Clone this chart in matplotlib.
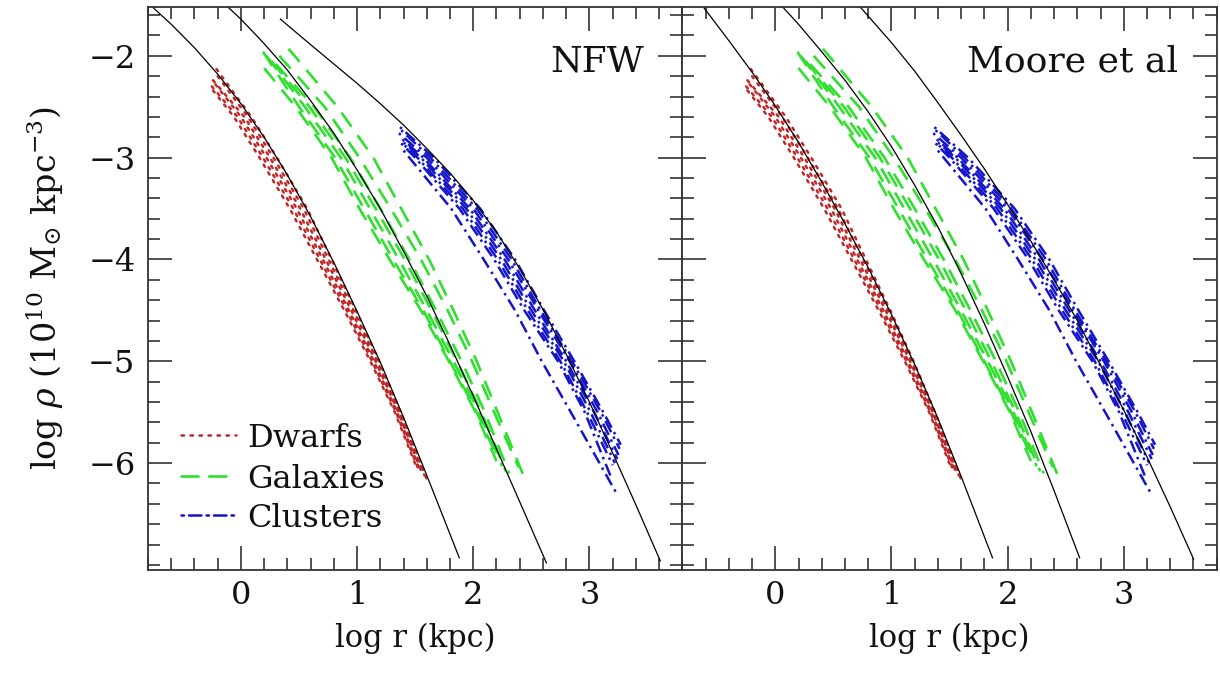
import matplotlib
matplotlib.use("Agg")
import matplotlib.pyplot as plt
from matplotlib.ticker import MultipleLocator, FixedLocator

plt.rcParams['font.family'] = ['DejaVu Serif']
plt.rcParams['mathtext.fontset'] = 'dejavuserif'

# ---------------- model curves (black) ----------------
nfw_dwarf_x = [-0.8, -0.6, -0.4, -0.2, 0.0, 0.2, 0.4, 0.6, 0.8, 1.0, 1.2, 1.4, 1.6, 1.88]
nfw_dwarf_y = [-1.48, -1.69, -1.92, -2.18, -2.47, -2.80, -3.17, -3.58, -4.03, -4.51, -5.01, -5.55, -6.12, -6.93]
nfw_gal_x = [-0.15, 0.0, 0.2, 0.4, 0.6, 0.8, 1.0, 1.2, 1.4, 1.6, 1.8, 2.0, 2.2, 2.4, 2.63]
nfw_gal_y = [-1.48, -1.64, -1.88, -2.14, -2.44, -2.76, -3.12, -3.50, -3.92, -4.36, -4.84, -5.34, -5.86, -6.38, -6.98]
nfw_clu_x = [0.34, 0.6, 0.8, 1.0, 1.2, 1.4, 1.6, 1.8, 2.0, 2.2, 2.4, 2.6, 2.8, 3.0, 3.2, 3.4, 3.61]
nfw_clu_y = [-1.64, -1.89, -2.08, -2.27, -2.47, -2.68, -2.91, -3.15, -3.42, -3.73, -4.09, -4.49, -4.93, -5.40, -5.90, -6.41, -6.96]

moore_dwarf_x = [-0.7, -0.6, -0.4, -0.2, 0.0, 0.2, 0.4, 0.6, 0.8, 1.0, 1.2, 1.4, 1.6, 1.87]
moore_dwarf_y = [-1.40, -1.55, -1.85, -2.16, -2.49, -2.85, -3.24, -3.65, -4.08, -4.54, -5.03, -5.56, -6.13, -6.93]
moore_gal_x = [0.0, 0.2, 0.4, 0.6, 0.8, 1.0, 1.2, 1.4, 1.6, 1.8, 2.0, 2.2, 2.4, 2.62]
moore_gal_y = [-1.44, -1.69, -1.96, -2.24, -2.55, -2.89, -3.27, -3.68, -4.14, -4.63, -5.15, -5.69, -6.27, -6.93]
moore_clu_x = [0.7, 1.0, 1.2, 1.4, 1.6, 1.8, 2.0, 2.2, 2.4, 2.6, 2.8, 3.0, 3.2, 3.4, 3.6]
moore_clu_y = [-1.48, -1.87, -2.15, -2.46, -2.78, -3.11, -3.46, -3.82, -4.20, -4.60, -5.04, -5.48, -5.94, -6.43, -6.94]

# ---------------- simulated haloes ----------------
dwarfs_x = [
    [-0.21, 0.09, 0.31, 0.57, 0.780, 0.99, 1.190, 1.375, 1.600],
    [-0.20, 0.06, 0.28, 0.54, 0.755, 0.97, 1.175, 1.365, 1.580],
    [-0.24, 0.03, 0.25, 0.51, 0.730, 0.95, 1.160, 1.355, 1.560],
    [-0.22, 0.00, 0.22, 0.48, 0.705, 0.93, 1.145, 1.345, 1.545],
    [-0.25, -0.03, 0.19, 0.45, 0.680, 0.91, 1.130, 1.335, 1.525],
    [-0.24, -0.06, 0.16, 0.42, 0.655, 0.89, 1.115, 1.325, 1.505],
]
dwarfs_y = [
    [-2.13, -2.6, -3.0, -3.5, -4.0, -4.5, -5.0, -5.5, -6.16],
    [-2.20, -2.6, -3.0, -3.5, -4.0, -4.5, -5.0, -5.5, -6.12],
    [-2.24, -2.6, -3.0, -3.5, -4.0, -4.5, -5.0, -5.5, -6.10],
    [-2.28, -2.6, -3.0, -3.5, -4.0, -4.5, -5.0, -5.5, -6.08],
    [-2.30, -2.6, -3.0, -3.5, -4.0, -4.5, -5.0, -5.5, -6.05],
    [-2.34, -2.6, -3.0, -3.5, -4.0, -4.5, -5.0, -5.5, -6.02],
]
galaxies_x = [
    [0.19, 0.50, 0.81, 1.06, 1.31, 1.57, 1.80, 2.03, 2.21],
    [0.22, 0.55, 0.86, 1.11, 1.36, 1.60, 1.83, 2.05, 2.25],
    [0.26, 0.59, 0.90, 1.16, 1.41, 1.64, 1.86, 2.07, 2.28],
    [0.30, 0.63, 0.94, 1.20, 1.45, 1.68, 1.90, 2.10, 2.31],
    [0.20, 0.47, 0.78, 1.02, 1.28, 1.55, 1.79, 2.02, 2.20],
    [0.41, 0.83, 1.14, 1.38, 1.62, 1.83, 2.03, 2.21, 2.46],
    [0.33, 0.72, 1.02, 1.29, 1.55, 1.78, 1.99, 2.18, 2.39],
]
galaxies_y = [
    [-1.96, -2.5, -3.0, -3.5, -4.0, -4.5, -5.0, -5.5, -5.95],
    [-2.00, -2.5, -3.0, -3.5, -4.0, -4.5, -5.0, -5.5, -6.03],
    [-2.05, -2.5, -3.0, -3.5, -4.0, -4.5, -5.0, -5.5, -6.08],
    [-2.08, -2.5, -3.0, -3.5, -4.0, -4.5, -5.0, -5.5, -6.10],
    [-2.12, -2.5, -3.0, -3.5, -4.0, -4.5, -5.0, -5.5, -5.98],
    [-1.93, -2.5, -3.0, -3.5, -4.0, -4.5, -5.0, -5.5, -6.20],
    [-2.00, -2.5, -3.0, -3.5, -4.0, -4.5, -5.0, -5.5, -6.04],
]
clusters_x = [
    [1.37, 1.66, 2.06, 2.36, 2.61, 2.87, 3.12, 3.27],
    [1.38, 1.63, 2.03, 2.33, 2.58, 2.85, 3.10, 3.26],
    [1.36, 1.60, 2.00, 2.30, 2.56, 2.83, 3.07, 3.25],
    [1.39, 1.57, 1.97, 2.27, 2.53, 2.80, 3.04, 3.24],
    [1.40, 1.55, 1.94, 2.24, 2.50, 2.78, 3.01, 3.22],
    [1.41, 1.52, 1.91, 2.21, 2.47, 2.75, 2.98, 3.20],
    [1.38, 1.50, 1.88, 2.18, 2.44, 2.73, 2.96, 3.19],
    [1.40, 1.45, 1.81, 2.09, 2.36, 2.59, 2.84, 3.23],
]
clusters_y = [
    [-2.70, -3.0, -3.5, -4.0, -4.5, -5.0, -5.5, -5.82],
    [-2.73, -3.0, -3.5, -4.0, -4.5, -5.0, -5.5, -5.86],
    [-2.76, -3.0, -3.5, -4.0, -4.5, -5.0, -5.5, -5.92],
    [-2.82, -3.0, -3.5, -4.0, -4.5, -5.0, -5.5, -5.96],
    [-2.85, -3.0, -3.5, -4.0, -4.5, -5.0, -5.5, -6.00],
    [-2.88, -3.0, -3.5, -4.0, -4.5, -5.0, -5.5, -6.02],
    [-2.86, -3.0, -3.5, -4.0, -4.5, -5.0, -5.5, -6.15],
    [-2.93, -3.0, -3.5, -4.0, -4.5, -5.0, -5.5, -6.29],
]

legend_labels = ["Dwarfs", "Galaxies", "Clusters"]
panel_titles = ["NFW", "Moore et al"]
x_ticks = [0, 1, 2, 3]
y_ticks = [-6, -5, -4, -3, -2]

RED = "#c02828"
GREEN = "#2fe02f"
BLUE = "#1414c8"
dot_style = (0, (1.0, 2.6))
dash_style = (0, (6.5, 4.0))
dashdot_style = (7.0, (5.0, 2.0, 1.0, 2.0))

fig = plt.figure(figsize=(12.2, 6.77), dpi=100)
ax1 = fig.add_axes([0.1213, 0.158, 0.438, 0.8317])
ax2 = fig.add_axes([0.5593, 0.158, 0.438, 0.8317], sharey=ax1)

models = [
    [(nfw_dwarf_x, nfw_dwarf_y), (nfw_gal_x, nfw_gal_y), (nfw_clu_x, nfw_clu_y)],
    [(moore_dwarf_x, moore_dwarf_y), (moore_gal_x, moore_gal_y), (moore_clu_x, moore_clu_y)],
]

for i, ax in enumerate([ax1, ax2]):
    for xs, ys in zip(dwarfs_x, dwarfs_y):
        ax.plot(xs, ys, color=RED, lw=1.8, linestyle=dot_style, dash_capstyle='round')
    for xs, ys in zip(galaxies_x, galaxies_y):
        ax.plot(xs, ys, color=GREEN, lw=1.9, linestyle=dash_style)
    for xs, ys in zip(clusters_x, clusters_y):
        ax.plot(xs, ys, color=BLUE, lw=1.8, linestyle=dashdot_style)
    for xs, ys in models[i]:
        ax.plot(xs, ys, color='black', lw=0.9)

    ax.set_xlim(-0.8, 3.8)
    ax.set_ylim(-7.05, -1.52)
    ax.xaxis.set_major_locator(FixedLocator(x_ticks))
    ax.xaxis.set_minor_locator(MultipleLocator(0.2))
    ax.yaxis.set_major_locator(FixedLocator(y_ticks))
    ax.yaxis.set_minor_locator(MultipleLocator(0.2))
    ax.tick_params(which='both', direction='in', top=True, right=True, width=1.1, colors='#222222')
    ax.tick_params(which='major', length=17.5)
    ax.tick_params(which='minor', length=8.5)
    ax.tick_params(axis='x', which='major', pad=7, labelsize=23, labelcolor='#111111')
    ax.tick_params(axis='y', which='major', pad=9, labelsize=23, labelcolor='#111111')
    for sp in ax.spines.values():
        sp.set_linewidth(1.3)
        sp.set_color('#333333')
    ax.set_xlabel("log r (kpc)", fontsize=22, labelpad=9, color='#111111')
    ax.text(0.928, 0.886, panel_titles[i], transform=ax.transAxes, ha='right', va='baseline',
            fontsize=26, color='#111111')

ax2.tick_params(axis='y', labelleft=False)
ax1.set_ylabel(r"log $\rho$ (10$^{10}$ M$_{\odot}$ kpc$^{-3}$)", fontsize=24, labelpad=16, color='#111111')

# legend drawn as samples in the left panel
leg_rows = [0.2398, 0.167, 0.0977]
leg_base = [0.2185, 0.1456, 0.0764]
leg_styles = [(RED, dot_style, 1.8), (GREEN, dash_style, 1.9), (BLUE, dashdot_style, 1.8)]
for lab, yr, yb, (c, ls, lw) in zip(legend_labels, leg_rows, leg_base, leg_styles):
    ax1.plot([0.061, 0.164], [yr, yr], transform=ax1.transAxes, color=c, linestyle=ls, lw=lw,
             dash_capstyle='round')
    ax1.text(0.186, yb, lab, transform=ax1.transAxes, fontsize=23, va='baseline', ha='left', color='#111111')

fig.savefig("out.png", dpi=100)
